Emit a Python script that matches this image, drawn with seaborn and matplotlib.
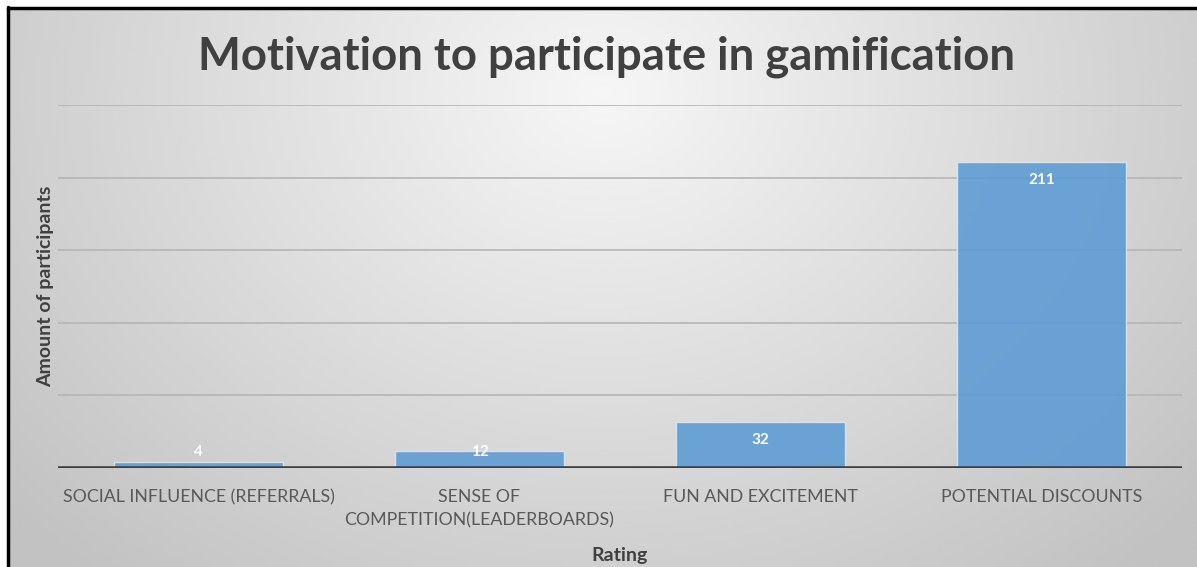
import numpy as np
import pandas as pd
import matplotlib
matplotlib.use("Agg")
import matplotlib.pyplot as plt
from matplotlib.lines import Line2D
import seaborn as sns

categories = [
    "SOCIAL INFLUENCE (REFERRALS)",
    "SENSE OF\nCOMPETITION(LEADERBOARDS)",
    "FUN AND EXCITEMENT",
    "POTENTIAL DISCOUNTS",
]
participants = [4, 12, 32, 211]
y_grid = [0, 50, 100, 150, 200, 250]

title = "Motivation to participate in gamification"
x_label = "Rating"
y_label = "Amount of participants"

sns.set_theme(style="white")
plt.rcParams["font.family"] = ["Lato", "DejaVu Sans"]

W, H = 1197, 567
fig = plt.figure(figsize=(W / 100, H / 100), dpi=100)
fig.patch.set_facecolor("white")

# soft radial grey gradient behind the chart area
bx0, by1 = 8 / W, 1 - 9 / H
bg = fig.add_axes([bx0, 0, 1 - bx0, by1])
gx, gy = np.meshgrid(np.linspace(0, 1, 400), np.linspace(0, 1, 200))
dist = np.sqrt(((gx - 0.5) / 0.55) ** 2 + ((gy - 0.15) / 0.95) ** 2)
shade = np.clip(0.965 - 0.17 * dist, 0.76, 0.97)
bg.imshow(shade, cmap="gray", vmin=0, vmax=1, aspect="auto",
          extent=[0, 1, 1, 0], interpolation="bicubic")
bg.set_axis_off()

# frame lines along top and left
fig.add_artist(Line2D([bx0, 1], [by1 + 1 / H, by1 + 1 / H], color="black", lw=2.5,
                      transform=fig.transFigure))
fig.add_artist(Line2D([bx0 - 0.5 / W, bx0 - 0.5 / W], [0, by1 + 2 / H], color="black", lw=2.5,
                      transform=fig.transFigure))

left, right = 58 / W, 1182 / W
bottom, top = (H - 468) / H, (H - 105) / H
ax = fig.add_axes([left, bottom, right - left, top - bottom])
ax.set_facecolor("none")

df = pd.DataFrame({"category": categories, "participants": participants})
sns.barplot(data=df, x="category", y="participants", color="#5b9bd5", alpha=0.88,
            width=0.6, edgecolor="#dbe8f5", linewidth=1.0, saturation=1, ax=ax, zorder=3)

ax.set_ylim(0, 250)
ax.set_xlim(-0.5, 3.5)
ax.set_yticks(y_grid)
ax.set_yticklabels([])
ax.tick_params(axis="y", length=0)
ax.tick_params(axis="x", length=0, pad=15, labelsize=12.8, labelcolor="#595959")
for lbl in ax.get_xticklabels():
    lbl.set_linespacing(1.6)
for v in y_grid[1:]:
    ax.axhline(v, color="#b5b5b5", lw=1.2, zorder=1)
ax.axhline(0, color="#404040", lw=2.6, zorder=4)
for s in ax.spines.values():
    s.set_visible(False)

# value labels near the inside end of each bar
for i, v in enumerate(participants):
    ypos = max(v - 12.5, 11)
    ax.text(i, ypos, str(v), ha="center", va="center", color="white",
            fontsize=11, fontweight="bold", zorder=5)

ax.set_xlabel(x_label, fontsize=14, fontweight="bold", color="#404040", va="center")
ax.set_ylabel(y_label, fontsize=14, fontweight="bold", color="#404040", va="center")
ax.yaxis.set_label_coords(-(58 - 46) / (1182 - 58), 0.5)
ax.xaxis.set_label_coords(0.5, -(555 - 468) / (468 - 105))

fig.text(606 / W, 1 - 57 / H, title, ha="center", va="center", fontsize=32.8,
         fontweight="bold", color="#404040")

fig.savefig("out.png", dpi=100)
